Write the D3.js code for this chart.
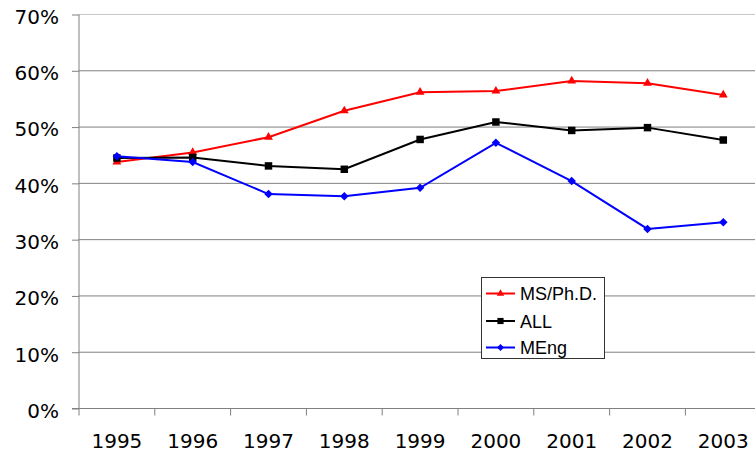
<!DOCTYPE html>
<html>
<head>
<meta charset="utf-8">
<script src="https://d3js.org/d3.v7.min.js"></script>
<style>
  body { margin: 0; background: #fff; }
  svg { display: block; }
</style>
</head>
<body>
<svg width="755" height="454"></svg>
<script>
// data
const years = ['1995', '1996', '1997', '1998', '1999', '2000', '2001', '2002', '2003'];
const msPhd = [43.8, 45.5, 48.2, 52.9, 56.2, 56.4, 58.2, 57.8, 55.7];
const all = [44.5, 44.6, 43.1, 42.5, 47.8, 50.9, 49.4, 49.9, 47.7];
const meng = [44.8, 43.8, 38.1, 37.7, 39.2, 47.2, 40.4, 31.9, 33.1];
const yTicks = [0, 10, 20, 30, 40, 50, 60, 70];

// diamond = square turned 45deg (excel style, equal width and height)
const series = [
  { name: 'MS/Ph.D.', values: msPhd, color: '#ff0000', symbol: d3.symbolTriangle, size: 34, legSize: 24, rot: 0 },
  { name: 'ALL', values: all, color: '#000000', symbol: d3.symbolSquare, size: 56, legSize: 38, rot: 0 },
  { name: 'MEng', values: meng, color: '#0000ff', symbol: d3.symbolSquare, size: 36, legSize: 24, rot: 45 }
];

let svg = d3.select('svg');

let plotLeft = 79, plotTop = 14.5, plotBottom = 408.5;
let band = 75.8;

let x = d3.scaleBand()
  .domain(years)
  .range([plotLeft, plotLeft + band * years.length]);

let y = d3.scaleLinear()
  .domain([0, 70])
  .range([plotBottom, plotTop]);

let plotRight = plotLeft + band * years.length;

// gridlines
svg.append('g')
  .selectAll('line')
  .data(yTicks.filter(d => d > 0))
  .enter().append('line')
  .attr('x1', plotLeft)
  .attr('x2', plotRight)
  .attr('y1', d => y(d))
  .attr('y2', d => y(d))
  .attr('stroke', d => d === 70 ? '#c8c8c8' : '#808080')
  .attr('stroke-width', 1);

// y axis
let yAxis = d3.axisLeft(y)
  .tickValues(yTicks)
  .tickFormat(d => d + '%')
  .tickSize(7)
  .tickPadding(13);

svg.append('g')
  .attr('transform', `translate(${plotLeft},0)`)
  .call(yAxis)
  .call(g => g.select('.domain').attr('d', `M0,${plotTop}V${plotBottom}`).attr('stroke', '#808080'))
  .call(g => g.selectAll('.tick line').attr('stroke', '#808080'))
  .call(g => g.selectAll('text')
    .attr('dy', '0.44em')
    .attr('font-family', 'Verdana, DejaVu Sans, sans-serif')
    .attr('font-size', 20)
    .attr('fill', '#000'));

// x axis: ticks between categories
let xg = svg.append('g')
  .attr('transform', `translate(0,${plotBottom})`);

xg.append('line')
  .attr('x1', plotLeft - 7)
  .attr('x2', plotRight)
  .attr('stroke', '#808080');

xg.selectAll('.tick-mark')
  .data(years)
  .enter().append('line')
  .attr('class', 'tick-mark')
  .attr('x1', d => x(d))
  .attr('x2', d => x(d))
  .attr('y1', 0)
  .attr('y2', 7)
  .attr('stroke', '#808080');

xg.selectAll('text')
  .data(years)
  .enter().append('text')
  .attr('x', d => x(d) + x.bandwidth() / 2)
  .attr('y', 39.5)
  .attr('text-anchor', 'middle')
  .attr('font-family', 'Verdana, DejaVu Sans, sans-serif')
  .attr('font-size', 20)
  .text(d => d);

// lines + markers
let line = d3.line()
  .x((d, i) => x(years[i]) + x.bandwidth() / 2)
  .y(d => y(d));

series.forEach(s => {
  svg.append('path')
    .datum(s.values)
    .attr('fill', 'none')
    .attr('stroke', s.color)
    .attr('stroke-width', 2)
    .attr('d', line);

  svg.append('g')
    .selectAll('path')
    .data(s.values)
    .enter().append('path')
    .attr('transform', (d, i) => `translate(${x(years[i]) + x.bandwidth() / 2},${y(d)}) rotate(${s.rot})`)
    .attr('d', d3.symbol().type(s.symbol).size(s.size))
    .attr('fill', s.color);
});

// legend
let lg = svg.append('g');
lg.append('rect')
  .attr('x', 481.5)
  .attr('y', 277.5)
  .attr('width', 123)
  .attr('height', 81)
  .attr('fill', '#fff')
  .attr('stroke', '#333')
  .attr('stroke-width', 1);

let rows = [293.5, 321, 347.5];
series.forEach((s, i) => {
  let row = lg.append('g').attr('transform', `translate(0,${rows[i]})`);
  row.append('line')
    .attr('x1', 486)
    .attr('x2', 515)
    .attr('stroke', s.color)
    .attr('stroke-width', 2);
  row.append('path')
    .attr('transform', `translate(500.5,0) rotate(${s.rot})`)
    .attr('d', d3.symbol().type(s.symbol).size(s.legSize))
    .attr('fill', s.color);
  row.append('text')
    .attr('x', 520)
    .attr('y', 6.5)
    .attr('font-family', 'Liberation Sans, Arial, sans-serif')
    .attr('font-size', 18)
    .text(s.name);
});
</script>
</body>
</html>
